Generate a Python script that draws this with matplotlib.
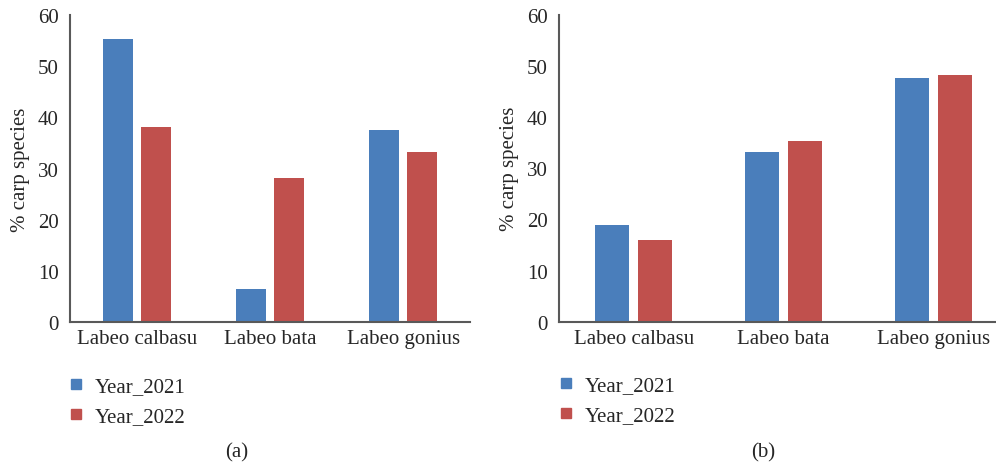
import matplotlib
matplotlib.use("Agg")
import matplotlib.pyplot as plt
from matplotlib.lines import Line2D
import numpy as np

species = ["Labeo calbasu", "Labeo bata", "Labeo gonius"]
series_names = ["Year_2021", "Year_2022"]

panel_a_2021 = [55.3, 6.5, 37.5]
panel_a_2022 = [38.1, 28.2, 33.3]
panel_b_2021 = [18.9, 33.2, 47.6]
panel_b_2022 = [16.0, 35.3, 48.2]

y_ticks = [0, 10, 20, 30, 40, 50, 60]
captions = ["(a)", "(b)"]

BLUE = "#4A7EBB"
RED = "#C0504D"
AXIS = "#595959"
TEXT = "#262626"
FONT = "Liberation Serif"
FS = 15

plt.rcParams["font.family"] = [FONT, "DejaVu Serif"]

fig = plt.figure(figsize=(9.96, 4.64), dpi=100)

panels = [
    dict(rect=[0.0703, 0.3032, 0.4016, 0.6623], vals=(panel_a_2021, panel_a_2022),
         xlim=(-0.5, 2.5), width=0.225, off=0.143,
         leg=(0.047, 0.226), cap=(0.238, 0.004)),
    dict(rect=[0.5612, 0.3045, 0.4388, 0.6615], vals=(panel_b_2021, panel_b_2022),
         xlim=(-0.5, 2.42), width=0.227, off=0.144,
         leg=(0.539, 0.228), cap=(0.766, 0.004)),
]

for p, cap in zip(panels, captions):
    ax = fig.add_axes(p["rect"])
    x = np.arange(len(species))
    v21, v22 = p["vals"]
    ax.bar(x - p["off"], v21, width=p["width"], color=BLUE, zorder=2)
    ax.bar(x + p["off"], v22, width=p["width"], color=RED, zorder=2)
    ax.set_xlim(*p["xlim"])
    ax.set_ylim(0, 60)
    ax.set_yticks(y_ticks)
    ax.set_xticks(x)
    ax.set_xticklabels(species)
    ax.tick_params(axis="both", length=0, labelsize=FS, colors=TEXT)
    ax.tick_params(axis="x", pad=5)
    ax.tick_params(axis="y", pad=8)
    for s in ("top", "right"):
        ax.spines[s].set_visible(False)
    for s in ("left", "bottom"):
        ax.spines[s].set_color(AXIS)
        ax.spines[s].set_linewidth(1.5)
    ax.set_ylabel("% carp species", fontsize=FS, color=TEXT, labelpad=6)

    handles = [
        Line2D([], [], linestyle="none", marker="s", markersize=7.5,
               markerfacecolor=BLUE, markeredgecolor=BLUE),
        Line2D([], [], linestyle="none", marker="s", markersize=7.5,
               markerfacecolor=RED, markeredgecolor=RED),
    ]
    fig.legend(handles, series_names, loc="upper left",
               bbox_to_anchor=p["leg"], bbox_transform=fig.transFigure,
               frameon=False, fontsize=FS, handlelength=1.0,
               handletextpad=0.4, labelspacing=0.47, labelcolor=TEXT)
    fig.text(p["cap"][0], p["cap"][1], cap, ha="center", va="bottom",
             fontsize=FS, color=TEXT)

fig.savefig("out.png", dpi=100)
